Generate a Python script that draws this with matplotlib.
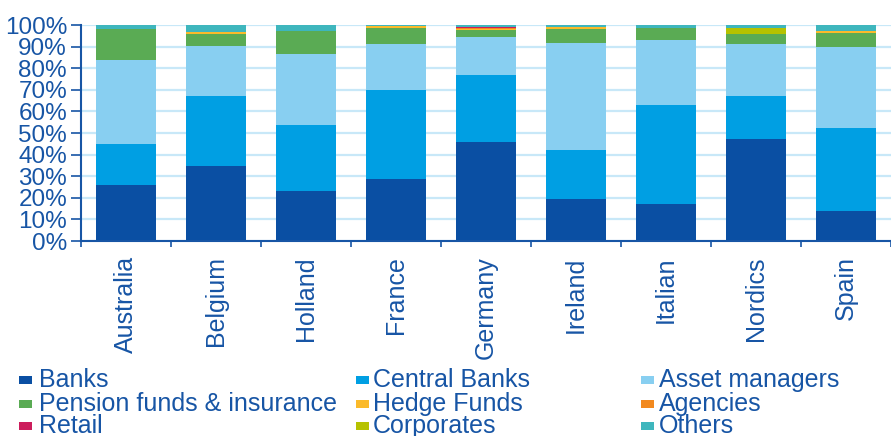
import matplotlib
matplotlib.use("Agg")
import matplotlib.pyplot as plt
import matplotlib.patches as patches
import numpy as np

countries = ["Australia", "Belgium", "Holland", "France", "Germany",
             "Ireland", "Italian", "Nordics", "Spain"]

# investor shares in %, one list per investor type
banks        = [26.1, 34.6, 23.2, 28.7, 45.9, 19.5, 17.3, 47.0, 13.9]
central      = [18.7, 32.5, 30.4, 41.0, 31.1, 22.5, 45.5, 20.1, 38.2]
asset_mgrs   = [39.0, 23.3, 32.8, 21.3, 17.6, 49.8, 30.2, 23.9, 37.6]
pension      = [14.5,  5.6, 10.7,  7.8,  2.9,  6.3,  5.7,  4.9,  6.7]
hedge        = [ 0.0,  0.7,  0.0,  0.6,  0.6,  1.2,  0.0,  0.0,  0.6]
agencies     = [ 0.0,  0.0,  0.0,  0.0,  0.6,  0.0,  0.0,  0.0,  0.0]
retail       = [ 0.0,  0.0,  0.0,  0.0,  0.2,  0.0,  0.0,  0.0,  0.0]
corporates   = [ 0.0,  0.0,  0.0,  0.0,  0.4,  0.0,  0.0,  2.6,  0.0]
others       = [ 1.7,  3.3,  2.9,  0.6,  0.7,  0.7,  1.3,  1.5,  3.0]

series_names = ["Banks", "Central Banks", "Asset managers",
                "Pension funds & insurance", "Hedge Funds", "Agencies",
                "Retail", "Corporates", "Others"]
series = [banks, central, asset_mgrs, pension, hedge, agencies,
          retail, corporates, others]
colors = ["#0a4fa3", "#009fe3", "#88cff1", "#5aab54", "#fbba2a",
          "#f2891e", "#cc1d5c", "#b6c200", "#3eb6bd"]

TXT = "#1755a5"
plt.rcParams['font.family'] = ['Liberation Sans', 'DejaVu Sans']

fig = plt.figure(figsize=(8.91, 4.36), dpi=100)
ax = fig.add_axes([81/891, 1-241/436, 810/891, 216/436])

x = np.arange(len(countries))
bottom = np.zeros(len(countries))
for vals, col in zip(series, colors):
    ax.bar(x, vals, width=0.667, bottom=bottom, color=col, zorder=3)
    bottom += np.array(vals)

ax.set_xlim(-0.5, len(countries)-0.5)
ax.set_ylim(0, 100)

#GRID
ax.set_yticks(np.arange(0, 101, 10))
ax.set_yticklabels([f"{v}%" for v in range(0, 101, 10)], fontsize=17.5, color=TXT)
ax.yaxis.grid(True, color="#c8e8f8", linewidth=1.6, zorder=0)
ax.tick_params(axis='y', length=7, width=1.2, color=TXT, pad=3)

ax.set_xticks(x)
ax.set_xticklabels(countries, rotation=90, fontsize=18, color=TXT)
ax.set_xticks(np.arange(-0.5, len(countries), 1), minor=True)
ax.tick_params(axis='x', which='major', length=0, pad=11)
ax.tick_params(axis='x', which='minor', length=4, width=1.2, color=TXT)

for s in ['top', 'right']:
    ax.spines[s].set_visible(False)
for s in ['left', 'bottom']:
    ax.spines[s].set_color(TXT)
    ax.spines[s].set_linewidth(1.5)
    ax.spines[s].set_zorder(4)

#LEGEND (3 columns, row-wise order)
col_marker = [19, 356, 641]
col_text = [39, 373, 659]
row_base = [386.7, 411, 432.7]
for i, (name, col) in enumerate(zip(series_names, colors)):
    c, r = i % 3, i // 3
    yb = row_base[r]
    fig.patches.append(patches.Rectangle(
        (col_marker[c]/891, 1-(yb-3)/436), 13/891, 8/436,
        transform=fig.transFigure, facecolor=col, edgecolor='none'))
    fig.text(col_text[c]/891, 1-yb/436, name, fontsize=18, color=TXT,
             va='baseline', ha='left')

fig.savefig("out.png", dpi=100)
